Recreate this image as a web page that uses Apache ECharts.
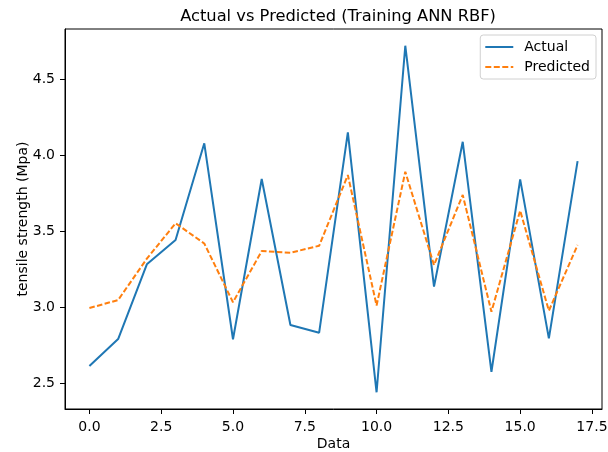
<!DOCTYPE html>
<html>
<head>
<meta charset="utf-8">
<script src="https://cdn.jsdelivr.net/npm/echarts@6/dist/echarts.min.js"></script>
<style>html,body{margin:0;padding:0;background:#fff}#c{width:608px;height:452px}</style>
</head>
<body>
<div id="c"></div>
<script>
const indices = [0,1,2,3,4,5,6,7,8,9,10,11,12,13,14,15,16,17];
const actual = [2.614,2.791,3.283,3.443,4.079,2.790,3.844,2.884,2.833,4.151,2.441,4.721,3.136,4.089,2.576,3.842,2.796,3.962];
const predicted = [2.995,3.048,3.320,3.553,3.420,3.033,3.370,3.359,3.405,3.870,3.012,3.892,3.278,3.739,2.971,3.636,2.978,3.410];
const xTicks = [0,2.5,5,7.5,10,12.5,15,17.5];
const yTicks = [2.5,3.0,3.5,4.0,4.5];

const font = 'DejaVu Sans';
const solidIcon = 'path://M0 0H28V2H0Z';
const dashIcon = 'path://M0 0H6V2H0Z M8.5 0H14.5V2H8.5Z M17 0H23V2H17Z M25.5 0H28V2H25.5Z';
const chart = echarts.init(document.getElementById('c'), null, {renderer:'canvas'});
chart.setOption({
  animation:false,
  backgroundColor:'#fff',
  title:{text:'Actual vs Predicted (Training ANN RBF)', left:333, top:4, textAlign:'center',
    textStyle:{fontFamily:font, fontSize:16.3, fontWeight:'normal', color:'#000'}},
  grid:{left:65, right:6, top:29, bottom:43, containLabel:false, outerBoundsMode:'none',
    show:true, borderColor:'#000', borderWidth:1, backgroundColor:'transparent'},
  legend:{right:12, top:35, orient:'vertical', itemWidth:28, itemHeight:2, itemGap:6,
    padding:[5,6,5,5], borderColor:'#d0d0d0', borderWidth:1, borderRadius:3, backgroundColor:'rgba(255,255,255,0.8)',
    textStyle:{fontFamily:font, fontSize:14, color:'#000', padding:[0,0,0,6]},
    data:[{name:'Actual', icon:solidIcon}, {name:'Predicted', icon:dashIcon}]},
  xAxis:{type:'value', min:-0.85, max:17.85, name:'Data', nameLocation:'middle', nameGap:28, nameMoveOverlap:false,
    nameTextStyle:{fontFamily:font, fontSize:14, color:'#000'},
    axisLine:{show:true, onZero:false, lineStyle:{color:'#000', width:1}},
    axisTick:{show:true, inside:false, length:5, lineStyle:{color:'#000'}, customValues:xTicks},
    axisLabel:{fontFamily:font, fontSize:14, color:'#000', margin:11, customValues:xTicks, formatter:v=>v.toFixed(1)},
    splitLine:{show:false}},
  yAxis:{type:'value', min:2.331, max:4.831, name:'tensile strength (Mpa)', nameLocation:'middle', nameGap:35, nameMoveOverlap:false,
    nameTextStyle:{fontFamily:font, fontSize:14, color:'#000'},
    axisLine:{show:true, onZero:false, lineStyle:{color:'#000', width:1}},
    axisTick:{show:true, inside:false, length:5, lineStyle:{color:'#000'}, customValues:yTicks},
    axisLabel:{fontFamily:font, fontSize:14, color:'#000', margin:10, customValues:yTicks, formatter:v=>v.toFixed(1)},
    splitLine:{show:false}},
  series:[
    {name:'Actual', type:'line', data:indices.map((x,i)=>[x,actual[i]]), symbol:'none',
      lineStyle:{color:'#1f77b4', width:2}, itemStyle:{color:'#1f77b4'}},
    {name:'Predicted', type:'line', data:indices.map((x,i)=>[x,predicted[i]]), symbol:'none',
      lineStyle:{color:'#ff7f0e', width:2, type:[5.5,2.4]}, itemStyle:{color:'#ff7f0e'}}
  ]
});
</script>
</body>
</html>
